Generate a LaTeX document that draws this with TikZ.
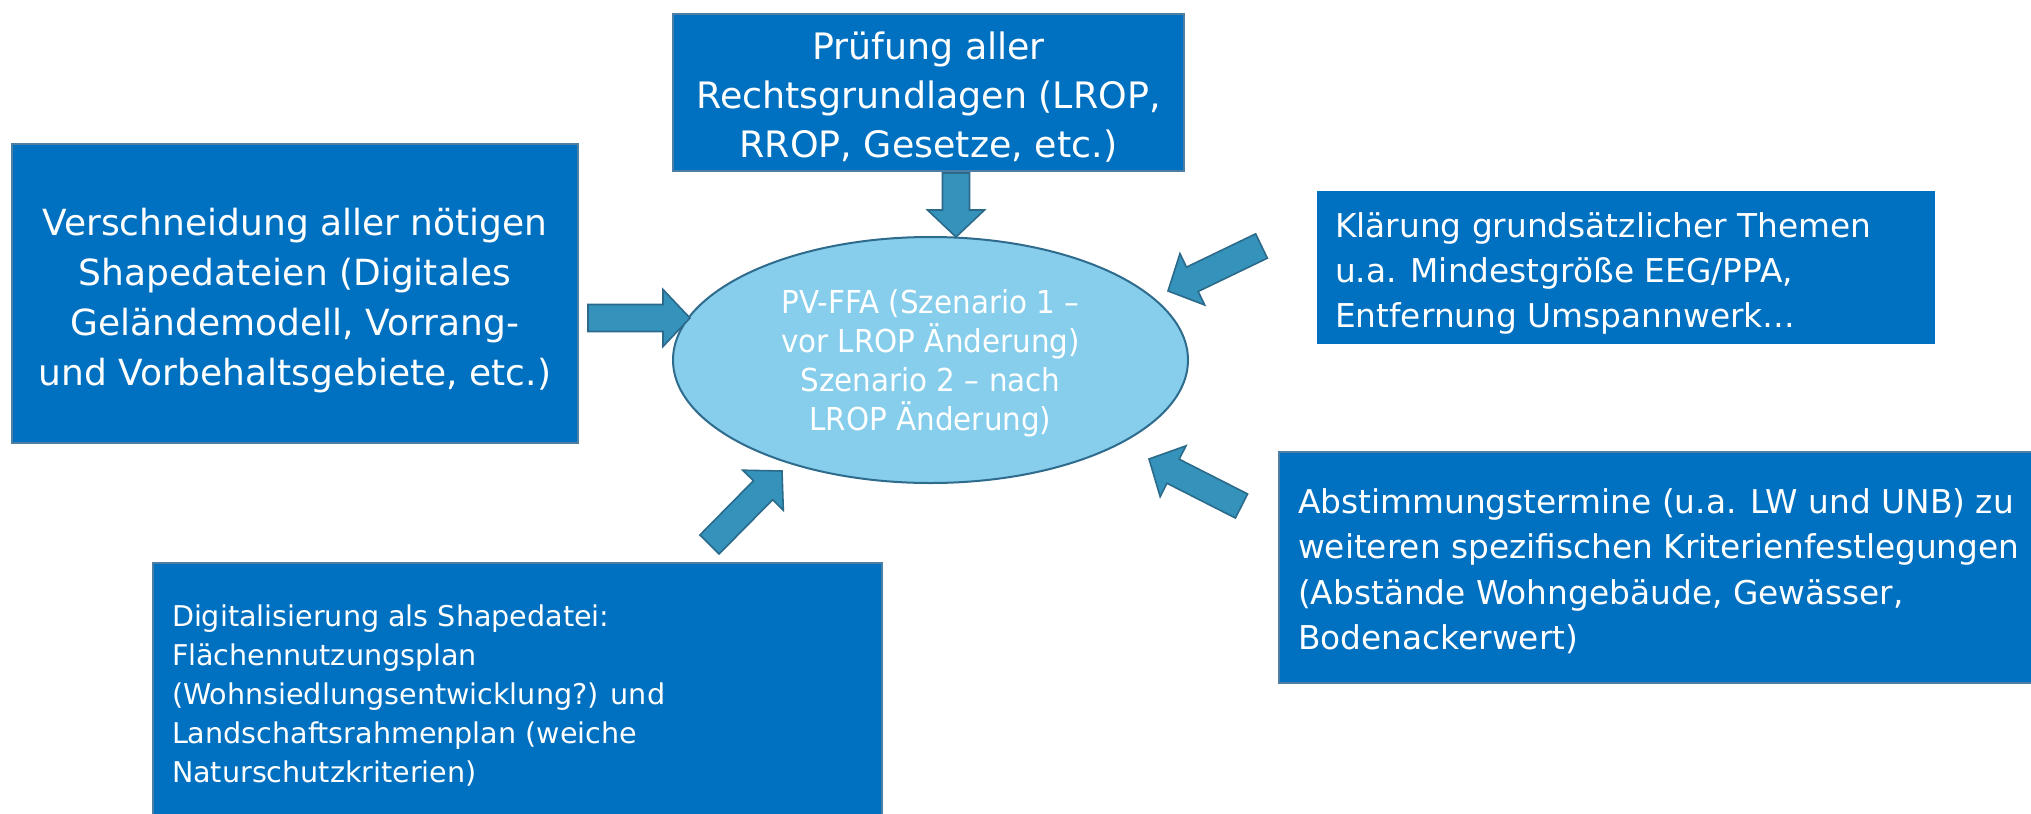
\documentclass[tikz,border=0pt]{standalone}
\usepackage{fontspec}
\setmainfont{DejaVu Sans}
\newfontfamily\condfont[FakeStretch=0.93]{DejaVu Sans}
\usetikzlibrary{calc,shapes.geometric}
\definecolor{boxblue}{HTML}{0070C0}
\definecolor{boxline}{HTML}{4D7FA5}
\definecolor{ellfill}{HTML}{86CEEB}
\definecolor{ellline}{HTML}{2E6B8C}
\definecolor{arrfill}{HTML}{3593BB}
\definecolor{arrline}{HTML}{2B6A8A}
\newcommand\blockarrow[3]{% #1 name, #2 tail, #3 tip
  \coordinate (#1c) at ($(#3)!13.5pt!(#2)$);
  \draw[barrow] ($(#2)!6.75pt!90:(#3)$) -- ($(#1c)!6.75pt!90:(#3)$)
    -- ($(#1c)!14.25pt!90:(#3)$) -- (#3) -- ($(#1c)!14.25pt!-90:(#3)$)
    -- ($(#1c)!6.75pt!-90:(#3)$) -- ($(#2)!6.75pt!-90:(#3)$) -- cycle;
}
\begin{document}
\begin{tikzpicture}[x=0.5pt,y=-0.5pt,
  box/.style={rectangle, fill=boxblue, draw=boxline, line width=0.6pt,
    anchor=north west, inner sep=0pt, outer sep=0pt},
  plainbox/.style={box, draw=none},
  txt/.style={text=white, inner sep=0pt, outer sep=0pt},
  bigtxt/.style={txt, align=center, font=\fontsize{18.2pt}{24.5pt}\selectfont},
  midtxt/.style={txt, align=left, anchor=west, font=\fontsize{16.4pt}{22.7pt}\selectfont},
  smalltxt/.style={txt, align=left, anchor=west, font=\fontsize{14.3pt}{19.5pt}\selectfont},
  elltxt/.style={txt, align=center, font=\condfont\fontsize{15.8pt}{19.5pt}\selectfont},
  barrow/.style={fill=arrfill, draw=arrline, line width=0.8pt, line join=miter}]
\useasboundingbox (0,0) rectangle (2031,814);

% boxes
\node[box, minimum width=255.5pt, minimum height=78.5pt] (top) at (673,14) {};
\node[bigtxt] (toptext) at (928.5,97) {Prüfung aller\\Rechtsgrundlagen (LROP,\\RROP, Gesetze, etc.)};

\node[box, minimum width=283pt, minimum height=149.5pt] (left) at (12,144) {};
\node[bigtxt, font=\fontsize{18pt}{25pt}\selectfont] (lefttext) at (295,300.5) {Verschneidung aller nötigen\\Shapedateien (Digitales\\Geländemodell, Vorrang-\\und Vorbehaltsgebiete, etc.)};

\node[plainbox, minimum width=309pt, minimum height=76.5pt] (rtop) at (1317,191) {};
\node[midtxt] (rtoptext) at (1335,273.5) {Klärung grundsätzlicher Themen\\u.a. Mindestgröße EEG/PPA,\\Entfernung Umspannwerk…};

\node[box, minimum width=377pt, minimum height=115.5pt] (rbot) at (1279,452) {};
\node[midtxt] (rbottext) at (1298,571) {Abstimmungstermine (u.a. LW und UNB) zu\\weiteren spezifischen Kriterienfestlegungen\\(Abstände Wohngebäude, Gewässer,\\Bodenackerwert)};

\node[box, minimum width=364.5pt, minimum height=127pt] (bot) at (153,563) {};
\node[smalltxt] (bottext) at (172,696) {Digitalisierung als Shapedatei:\\Flächennutzungsplan\\(Wohnsiedlungsentwicklung?) und\\Landschaftsrahmenplan (weiche\\Naturschutzkriterien)};

% central ellipse
\node[ellipse, fill=ellfill, draw=ellline, line width=1pt, minimum width=257.5pt,
  minimum height=123pt, inner sep=0pt] (pv) at (930.5,360) {};
\node[elltxt] (pvtext) at (930.5,363) {PV-FFA (Szenario 1 –\\vor LROP Änderung)\\Szenario 2 – nach\\LROP Änderung)};

% block arrows
\coordinate (a1t) at (956,173);    \coordinate (a1h) at (956,237);
\coordinate (a2t) at (588,318);    \coordinate (a2h) at (690,318);
\coordinate (a3t) at (1261.5,246); \coordinate (a3h) at (1168,291);
\coordinate (a4t) at (1241.5,506); \coordinate (a4h) at (1149,459);
\coordinate (a5t) at (709.5,544.5);\coordinate (a5h) at (782,471);
\blockarrow{a1}{a1t}{a1h}
\blockarrow{a2}{a2t}{a2h}
\blockarrow{a3}{a3t}{a3h}
\blockarrow{a4}{a4t}{a4h}
\blockarrow{a5}{a5t}{a5h}
\end{tikzpicture}
\end{document}
